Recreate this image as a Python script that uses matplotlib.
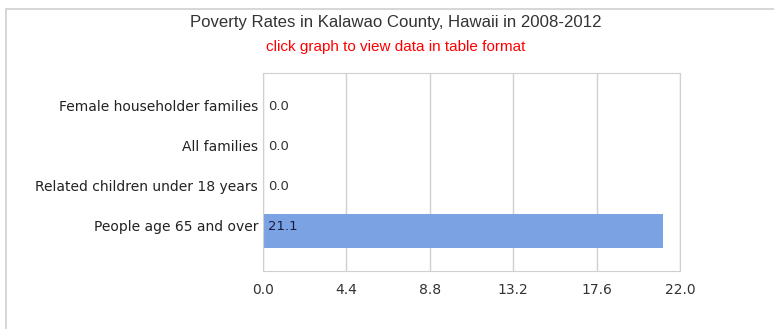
import matplotlib.pyplot as plt
import matplotlib.patches as patches
from matplotlib.transforms import ScaledTranslation

# Poverty rates by group (percent)
categories = ["People age 65 and over", "Related children under 18 years",
              "All families", "Female householder families"]
values = [21.1, 0.0, 0.0, 0.0]
xticks = [0.0, 4.4, 8.8, 13.2, 17.6, 22.0]

fig = plt.figure(figsize=(7.74, 3.29), dpi=100)
ax = fig.add_axes([263 / 774, 1 - 271 / 329, (680 - 263) / 774, (271 - 73) / 329])

# outer frame around the whole chart
fig.patches.append(patches.Rectangle((6 / 774, -0.05), 1.0, 1 - 9 / 329 + 0.05,
                                     transform=fig.transFigure, fill=False,
                                     edgecolor='#d0d0d0', linewidth=1.2))

# labels sit a few pixels above the bar centre
lift = ScaledTranslation(0, 4 / 100, fig.dpi_scale_trans)
cat_shift = ScaledTranslation(-5 / 100, 4 / 100, fig.dpi_scale_trans)

ypos = list(range(len(categories)))
ax.barh(ypos, values, height=0.85, color='#7ba3e3', zorder=2)

for y, v in zip(ypos, values):
    ax.text(0.25, y, f"{v:.1f}", va='center', ha='left', fontsize=9.5,
            color='#1a1a40' if v > 0 else '#333333', zorder=3,
            transform=ax.transData + lift)

# category names drawn as y labels
for y, name in zip(ypos, categories):
    ax.text(0, y, name, ha='right', va='center', fontsize=10, color='#222222',
            transform=ax.get_yaxis_transform() + cat_shift, clip_on=False)

ax.set_xlim(0, 22)
ax.set_ylim(-1.0, 3.95)
ax.set_xticks(xticks)
ax.set_xticklabels([f"{t:.1f}" for t in xticks], fontsize=10, color='#333333')
ax.set_yticks(ypos)
ax.set_yticklabels([])
ax.tick_params(axis='both', length=0)
ax.tick_params(axis='x', pad=9)
ax.grid(axis='x', color='#d0d0d0', linewidth=1, zorder=0)
for s in ax.spines.values():
    s.set_color('#d0d0d0')

fig.text(396 / 774, 1 - 22 / 329, "Poverty Rates in Kalawao County, Hawaii in 2008-2012",
         ha='center', va='center', fontsize=12.1, color='#333333', family='Liberation Sans')
fig.text(396 / 774, 1 - 47 / 329, "click graph to view data in table format",
         ha='center', va='center', fontsize=11, color='#ff0000', family='Liberation Sans')

fig.savefig('out.png', dpi=100)
